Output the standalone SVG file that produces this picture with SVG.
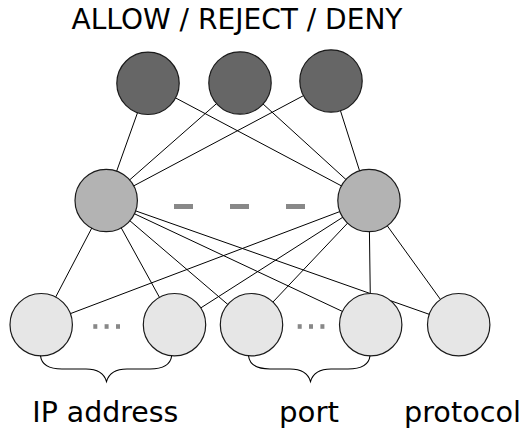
<svg xmlns="http://www.w3.org/2000/svg" width="520" height="433" viewBox="0 0 520 433">
<style>
.edge{stroke:#000;stroke-width:1;fill:none}
.node{stroke:#1a1a1a;stroke-width:1.2}
.out{fill:#666666}
.hid{fill:#b3b3b3}
.inp{fill:#e6e6e6}
.gap{fill:#888888}
.brace{stroke:#000;stroke-width:1.1;fill:none}
.lbl{font-family:"DejaVu Sans",Verdana,sans-serif;fill:#000}
</style>
<rect width="520" height="433" fill="#fff"/>
<g id="connectors">
<line class="edge" x1="148" y1="83.3" x2="106.2" y2="200.5"/>
<line class="edge" x1="148" y1="83.3" x2="369" y2="200.5"/>
<line class="edge" x1="240" y1="83" x2="106.2" y2="200.5"/>
<line class="edge" x1="240" y1="83" x2="369" y2="200.5"/>
<line class="edge" x1="331" y1="81" x2="106.2" y2="200.5"/>
<line class="edge" x1="331" y1="81" x2="369" y2="200.5"/>
<line class="edge" x1="106.2" y1="200.5" x2="41.2" y2="324.7"/>
<line class="edge" x1="106.2" y1="200.5" x2="174.5" y2="324.7"/>
<line class="edge" x1="106.2" y1="200.5" x2="251.5" y2="324.7"/>
<line class="edge" x1="106.2" y1="200.5" x2="370.7" y2="324.7"/>
<line class="edge" x1="106.2" y1="200.5" x2="458.7" y2="324.7"/>
<line class="edge" x1="369" y1="200.5" x2="41.2" y2="324.7"/>
<line class="edge" x1="369" y1="200.5" x2="174.5" y2="324.7"/>
<line class="edge" x1="369" y1="200.5" x2="251.5" y2="324.7"/>
<line class="edge" x1="369" y1="200.5" x2="370.7" y2="324.7"/>
<line class="edge" x1="369" y1="200.5" x2="458.7" y2="324.7"/>
</g>
<g id="out1"><circle class="node out" cx="148" cy="83.3" r="31.2"/></g>
<g id="out2"><circle class="node out" cx="240" cy="83" r="31.2"/></g>
<g id="out3"><circle class="node out" cx="331" cy="81" r="31.2"/></g>
<g id="hid1"><circle class="node hid" cx="106.2" cy="200.5" r="31.2"/></g>
<g id="hid2"><circle class="node hid" cx="369" cy="200.5" r="31.2"/></g>
<g id="in1"><circle class="node inp" cx="41.2" cy="324.7" r="31.2"/></g>
<g id="in2"><circle class="node inp" cx="174.5" cy="324.7" r="31.2"/></g>
<g id="in3"><circle class="node inp" cx="251.5" cy="324.7" r="31.2"/></g>
<g id="in4"><circle class="node inp" cx="370.7" cy="324.7" r="31.2"/></g>
<g id="in5"><circle class="node inp" cx="458.7" cy="324.7" r="31.2"/></g>
<g id="gaps">
<rect class="gap" x="174" y="204" width="19" height="5"/>
<rect class="gap" x="230" y="204" width="19" height="5"/>
<rect class="gap" x="286" y="204" width="19" height="5"/>
<rect class="gap" x="93.3" y="324.2" width="4" height="4.6"/>
<rect class="gap" x="104.6" y="324.2" width="4" height="4.6"/>
<rect class="gap" x="116" y="324.2" width="4" height="4.6"/>
<rect class="gap" x="297.7" y="324.2" width="4" height="4.6"/>
<rect class="gap" x="309" y="324.2" width="4" height="4.6"/>
<rect class="gap" x="320.4" y="324.2" width="4" height="4.6"/>
</g>
<g id="braces">
<path class="brace" d="M40.5,355.8 C41.5,365 49,369 62,369 L86,369 C98,369 104,373 106.5,381.5 C109,373 115,369 127,369 L150,369 C163,369 170.5,365 171.7,355.8"/>
<path class="brace" d="M248.5,355.8 C249.5,365 257,369 270,369 L290,369 C302,369 308,373 310.5,381.5 C313,373 319,369 331,369 L348,369 C361,369 369,365 370,355.8"/>
</g>
<g id="labels">
<text class="lbl" x="71.5" y="29.4" font-size="27.5" textLength="331" lengthAdjust="spacingAndGlyphs">ALLOW / REJECT / DENY</text>
<text class="lbl" x="32.3" y="421.6" font-size="28" textLength="146" lengthAdjust="spacingAndGlyphs">IP address</text>
<text class="lbl" x="279" y="421.6" font-size="28" textLength="60" lengthAdjust="spacingAndGlyphs">port</text>
<text class="lbl" x="404" y="421.6" font-size="28" textLength="117" lengthAdjust="spacingAndGlyphs">protocol</text>
</g>
</svg>
